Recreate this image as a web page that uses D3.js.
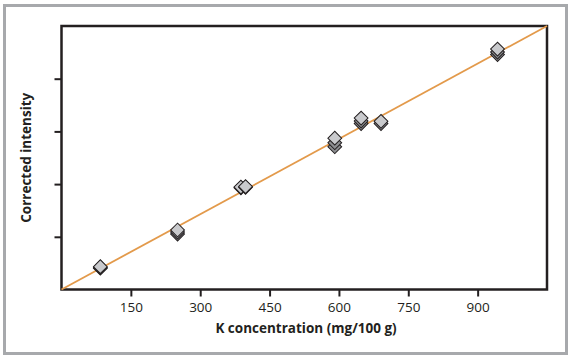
<!DOCTYPE html>
<html>
<head>
<meta charset="utf-8">
<script src="https://cdn.jsdelivr.net/npm/d3@7"></script>
<style>
body { margin: 0; background: #fff; }
text { font-family: "Open Sans", "Noto Sans", sans-serif; fill: #231f20; }
</style>
</head>
<body>
<script>
// K concentration (mg/100 g) for each sample, with the replicate intensities
var concentrations = [84, 251, 388, 398, 591, 648, 691, 943];
var replicates = [
  [85, 88, 91],
  [221, 229, 237],
  [405, 408],
  [407, 410],
  [569, 585, 603],
  [661, 671, 683],
  [661, 670],
  [936, 946, 958]
];
var xTicks = [150, 300, 450, 600, 750, 900];
var yTicks = [210, 420, 630, 840];
var fitLine = [[0, 0], [1050, 1050]];

var width = 572, height = 361;
var margin = {left: 61.5, top: 26, right: 25, bottom: 71.5};

var svg = d3.select("body").append("svg")
    .attr("width", width)
    .attr("height", height);

// outer frame
svg.append("rect")
    .attr("x", 4.5).attr("y", 5.5)
    .attr("width", 562).attr("height", 348)
    .attr("fill", "none")
    .attr("stroke", "#a7a9ac")
    .attr("stroke-width", 3);

var x = d3.scaleLinear().domain([0, 1050]).range([margin.left, width - margin.right]);
var y = d3.scaleLinear().domain([0, 1050]).range([height - margin.bottom, margin.top]);

// axes
var xAxis = svg.append("g")
    .attr("transform", "translate(0," + (height - margin.bottom) + ")")
    .call(d3.axisBottom(x).tickValues(xTicks).tickSize(7).tickPadding(6));
var yAxis = svg.append("g")
    .attr("transform", "translate(" + margin.left + ",0)")
    .call(d3.axisLeft(y).tickValues(yTicks).tickSize(7).tickFormat(""));

[xAxis, yAxis].forEach(function(g){
  g.select(".domain").remove();
  g.selectAll(".tick line").attr("stroke", "#231f20").attr("stroke-width", 2);
});
xAxis.selectAll(".tick text")
    .style("font-size", "13.5px")
    .style("fill", "#231f20");

// plot box
svg.append("rect")
    .attr("x", x(0)).attr("y", y(1050))
    .attr("width", x(1050) - x(0))
    .attr("height", y(0) - y(1050))
    .attr("fill", "none")
    .attr("stroke", "#231f20")
    .attr("stroke-width", 2.5);

// calibration line
svg.append("path")
    .datum(fitLine)
    .attr("d", d3.line().x(function(d){ return x(d[0]); }).y(function(d){ return y(d[1]); }))
    .attr("stroke", "#e39a4b")
    .attr("stroke-width", 1.8)
    .attr("fill", "none");

// diamonds, lowest replicate first so the top one sits in front
var diamond = d3.symbol().type(d3.symbolSquare).size(95);
var pts = [];
concentrations.forEach(function(c, i){
  replicates[i].forEach(function(v, j){
    pts.push({x: c, y: v, top: j == replicates[i].length - 1});
  });
});
svg.append("g").selectAll("path")
    .data(pts)
    .enter().append("path")
    .attr("d", diamond)
    .attr("transform", function(d){ return "translate(" + x(d.x) + "," + y(d.y) + ") rotate(45)"; })
    .attr("fill", function(d){ return d.top ? "#c9cacd" : "#8d8e91"; })
    .attr("stroke", "#231f20")
    .attr("stroke-width", 1);

// titles
svg.append("text")
    .attr("x", 306).attr("y", 333)
    .attr("text-anchor", "middle")
    .style("font-size", "13.5px")
    .style("font-weight", "bold")
    .text("K concentration (mg/100 g)");

svg.append("text")
    .attr("transform", "translate(31," + (y(525)) + ") rotate(-90)")
    .attr("text-anchor", "middle")
    .style("font-size", "13.5px")
    .style("font-weight", "bold")
    .text("Corrected intensity");
</script>
</body>
</html>
